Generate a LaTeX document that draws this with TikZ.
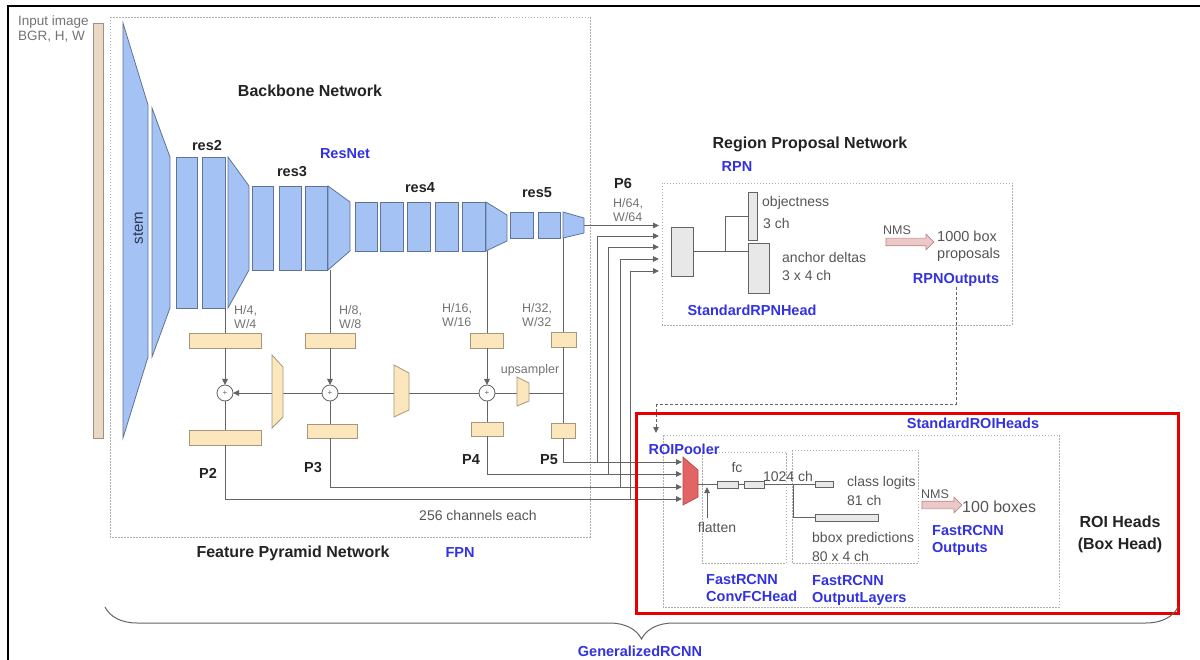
\documentclass[tikz,border=0pt]{standalone}
\usepackage{fontspec}
\setmainfont{Liberation Sans}
\usetikzlibrary{arrows.meta,shapes.arrows,decorations.pathreplacing,calc}
\definecolor{bbfill}{RGB}{164,194,244}
\definecolor{bbdraw}{RGB}{95,115,150}
\definecolor{tanfill}{RGB}{252,230,188}
\definecolor{tandraw}{RGB}{165,150,125}
\definecolor{barfill}{RGB}{232,216,196}
\definecolor{bardraw}{RGB}{160,145,130}
\definecolor{lgray}{RGB}{100,100,100}
\definecolor{txtgray}{RGB}{85,85,85}
\definecolor{ltxt}{RGB}{115,115,115}
\definecolor{ttl}{RGB}{35,35,35}
\definecolor{lblue}{RGB}{50,50,225}
\definecolor{boxgray}{RGB}{232,232,232}
\definecolor{pinkfill}{RGB}{236,200,200}
\definecolor{pinkdraw}{RGB}{185,135,135}
\definecolor{poolfill}{RGB}{226,100,100}
\definecolor{pooldraw}{RGB}{180,75,75}
\definecolor{redbox}{RGB}{232,0,0}
\definecolor{dotc}{RGB}{175,175,175}
\definecolor{stemc}{RGB}{45,55,80}
\begin{document}
\begin{tikzpicture}[x=1pt,y=-1pt,
  title/.style={font=\fontsize{16}{22}\selectfont\bfseries, text=ttl, inner sep=0, align=center},
  reslbl/.style={font=\fontsize{14.5}{17}\selectfont\bfseries, text=ttl, inner sep=0},
  blbl/.style={font=\fontsize{14.5}{17}\selectfont\bfseries, text=lblue, inner sep=0, align=left},
  txt/.style={font=\fontsize{14}{17}\selectfont, text=txtgray, inner sep=0, align=left},
  smalltxt/.style={font=\fontsize{12.5}{14.5}\selectfont, text=ltxt, inner sep=0, align=left},
  blk/.style={draw=bbdraw, fill=bbfill, line width=0.8pt},
  fpn/.style={draw=tandraw, fill=tanfill, line width=0.8pt, inner sep=0, outer sep=0, minimum height=15pt},
  gbox/.style={draw=lgray, fill=boxgray, line width=0.7pt, inner sep=0, outer sep=0},
  wire/.style={draw=lgray, line width=0.9pt},
  arr/.style={wire, -{Triangle[length=6pt,width=5.5pt]}},
  dotbox/.style={draw=dotc, line width=0.9pt, dash pattern=on 1.5pt off 1.5pt},
  sumnode/.style={circle, draw=lgray, line width=0.8pt, minimum size=16pt, inner sep=0, outer sep=0, fill=white, font=\fontsize{8}{8}\selectfont, text=lgray},
  nmsarrow/.style={single arrow, draw=pinkdraw, fill=pinkfill, line width=0.7pt, inner sep=3.5pt, single arrow head extend=4pt, minimum height=#1}
]
\useasboundingbox (0,0) rectangle (1200,660);
% frame
\draw[black, line width=1.5pt] (8,660) -- (8,6) -- (1200,6);

% dotted group boxes
\draw[dotbox] (110,17) rectangle (590,537);
\draw[dotbox] (662,183) rectangle (1012,325);
\draw[dotbox] (663,435) rectangle (1059,607);
\draw[dotbox] (702,452) rectangle (786,563);
\draw[dotbox] (792,450) rectangle (918,563);

% input image
\node[smalltxt, anchor=west, font=\fontsize{13.5}{15}\selectfont] (inimg) at (18,29) {Input image\\BGR, H, W};
\node[draw=bardraw, fill=barfill, line width=0.8pt, minimum width=10pt, minimum height=415pt, inner sep=0] (bar) at (98,230.5) {};

% backbone blocks
\draw[blk] (123,23) -- (148,105) -- (148,357) -- (123,438) -- cycle;
\draw[blk] (152,108) -- (170,157) -- (170,308) -- (152,357) -- cycle;
\draw[blk] (176,157) rectangle (197,308);
\draw[blk] (202,157) rectangle (225,308);
\draw[blk] (228,157) -- (249,186) -- (249,270) -- (228,308) -- cycle;
\foreach \a/\b in {252/273,279/301,305/327} \draw[blk] (\a,186) rectangle (\b,270);
\draw[blk] (328,186) -- (350,202) -- (350,251) -- (328,270) -- cycle;
\foreach \a/\b in {355/377,380/403,407/430,435/458,462/485} \draw[blk] (\a,202) rectangle (\b,251);
\draw[blk] (486,202) -- (507,215) -- (507,241) -- (486,251) -- cycle;
\foreach \a/\b in {510/533,538/560} \draw[blk] (\a,212) rectangle (\b,238);
\draw[blk] (563,212) -- (584,218) -- (584,233) -- (563,238) -- cycle;

\node[font=\fontsize{15}{17}\selectfont, text=stemc, rotate=90, inner sep=0] (stem) at (138,228) {stem};
\node[title] (bbt) at (310,91) {Backbone Network};
\node[blbl] (resnet) at (345,154) {ResNet};
\node[reslbl] (r2l) at (207,146) {res2};
\node[reslbl] (r3l) at (292,172) {res3};
\node[reslbl] (r4l) at (420,188) {res4};
\node[reslbl] (r5l) at (537,193) {res5};

% backbone outputs
\coordinate (c2) at (225,308);
\coordinate (c3) at (330,270);
\coordinate (c4) at (487,251);
\coordinate (c5) at (563.5,238);
\coordinate (c6) at (584,225.5);

% FPN nodes
\node[fpn, minimum width=72pt] (l2) at (225,340.5) {};
\node[fpn, minimum width=50pt] (l3) at (330,340.5) {};
\node[fpn, minimum width=33pt] (l4) at (487,340.5) {};
\node[fpn, minimum width=25pt] (l5) at (563.5,339.5) {};
\node[fpn, minimum width=72pt] (o2) at (225,437.5) {};
\node[fpn, minimum width=50pt, minimum height=14pt] (o3) at (332,431) {};
\node[fpn, minimum width=32pt, minimum height=14pt] (o4) at (487,429) {};
\node[fpn, minimum width=24pt] (o5) at (563.5,430.5) {};
\coordinate (j5) at (563.5,393);

% wires backbone -> lateral
\draw[wire] (c2) -- (l2.north);
\draw[wire] (c3) -- (l3.north);
\draw[wire] (c4) -- (l4.north);
\draw[wire] (c5) -- (l5.north);

% sums
\node[sumnode] (s2) at (225,393) {+};
\node[sumnode] (s3) at (330,393) {+};
\node[sumnode] (s4) at (487,393) {+};

\draw[arr] (l2) -- (s2);
\draw[arr] (l3) -- (s3);
\draw[arr] (l4) -- (s4);
\draw[wire] (l5) -- (o5);
\draw[wire] (s2) -- (o2);
\draw[wire] (s3) -- (o3.north -| s3);
\draw[wire] (s4) -- (o4);
% top-down path
\draw[wire] (j5) -- (s4);
\draw[wire] (s4) -- (s3);
\draw[arr] (s3) -- (s2);
% upsamplers
\draw[fpn] (272,355) -- (283,367) -- (283,417) -- (272,428) -- cycle;
\draw[fpn] (394,365) -- (409,373) -- (409,410) -- (394,417) -- cycle;
\draw[fpn] (517,377) -- (529,383) -- (529,401) -- (517,406) -- cycle;
\node[smalltxt] (ups) at (530,370) {upsampler};

% labels
\node[smalltxt, anchor=west] (h4) at (234,317) {H/4,\\W/4};
\node[smalltxt, anchor=west] (h8) at (339,317) {H/8,\\W/8};
\node[smalltxt, anchor=west] (h16) at (442,315) {H/16,\\W/16};
\node[smalltxt, anchor=west] (h32) at (522,315) {H/32,\\W/32};
\node[reslbl] (p2l) at (208,473) {P2};
\node[reslbl] (p3l) at (313,468) {P3};
\node[reslbl] (p4l) at (471,460) {P4};
\node[reslbl] (p5l) at (549,460) {P5};
\node[txt] (chan) at (478,515) {256 channels each};
\node[title] (fpnt) at (293,553) {Feature Pyramid Network};
\node[blbl] (fpnl) at (460,553) {FPN};

% ROI pooler
\draw[draw=pooldraw, fill=poolfill, line width=0.7pt] (683,457) -- (698,470) -- (698,497) -- (683,505) -- cycle;
\coordinate (pi5) at (682,462);
\coordinate (pi4) at (682,474);
\coordinate (pi3) at (682,487);
\coordinate (pi2) at (682,499);
\coordinate (poolout) at (698,484.5);

% P outputs to pooler
\draw[arr] (o5.south) |- (pi5);
\draw[arr] (o4.south) |- (pi4);
\draw[arr] (o3.south -| s3) |- (pi3);
\draw[arr] (o2.south) |- (pi2);

% branches to RPN
\coordinate (b5) at (597,462);
\coordinate (b4) at (608,474);
\coordinate (b3) at (620,487);
\coordinate (b2) at (630,499);
\coordinate (r6) at (659,225.5);
\coordinate (r5) at (659,236);
\coordinate (r4) at (659,247);
\coordinate (r3) at (659,259);
\coordinate (r2) at (659,271);
\draw[arr] (c6) -- (r6);
\draw[arr] (b5) |- (r5);
\draw[arr] (b4) |- (r4);
\draw[arr] (b3) |- (r3);
\draw[arr] (b2) |- (r2);
\node[reslbl] (p6l) at (623,184) {P6};
\node[smalltxt, anchor=west] (h64) at (613,210) {H/64,\\W/64};

% RPN
\node[title] (rpnt) at (810,144) {Region Proposal Network};
\node[blbl] (rpnl) at (737,167) {RPN};
\node[gbox, minimum width=22pt, minimum height=49pt] (rc) at (682,251.5) {};
\node[gbox, minimum width=9pt, minimum height=48pt] (ob) at (752.5,216) {};
\node[gbox, minimum width=21pt, minimum height=50pt] (ad) at (758.5,268) {};
\coordinate (rj) at (725,251.5);
\draw[wire] (rc.east) -- (rc.east -| ad.west);
\draw[wire] (rj) |- (ob.west);
\node[txt, anchor=west] (objl) at (762,203) {objectness};
\node[txt, anchor=west] (obch) at (763,223) {3 ch};
\node[txt, anchor=west] (adl) at (782,257) {anchor deltas};
\node[txt, anchor=west] (adch) at (782,275) {3 x 4 ch};
\node[nmsarrow=48pt] (nms1) at (908,242) {};
\node[smalltxt, text=txtgray] (nms1l) at (897,230) {NMS};
\node[txt, anchor=west, font=\fontsize{14.5}{17}\selectfont] (props) at (937,246) {1000 box\\proposals};
\node[blbl] (rpnout) at (956,280) {RPNOutputs};
\node[blbl] (rpnhead) at (752,310) {StandardRPNHead};

% dashed proposals link
\coordinate (dk2) at (656,404);
\coordinate (roitop) at (656,433);
\draw[draw=lgray, line width=0.9pt, dash pattern=on 3pt off 2pt] (rpnout.south) |- (dk2);
\draw[draw=lgray, line width=0.9pt, dash pattern=on 3pt off 2pt, -{Triangle[length=6pt,width=5.5pt]}] (dk2) -- (roitop);

% ROI heads
\draw[draw=redbox, line width=3pt] (636,413) rectangle (1178,613);
\node[blbl] (roil) at (973,423) {StandardROIHeads};
\node[blbl] (pooll) at (684,449) {ROIPooler};
\node[gbox, minimum width=21pt, minimum height=7pt] (fc1) at (727.5,484.5) {};
\node[gbox, minimum width=20pt, minimum height=7pt] (fc2) at (754,484.5) {};
\node[gbox, minimum width=18pt, minimum height=6pt] (cl) at (824,484.5) {};
\node[gbox, minimum width=63pt, minimum height=7pt] (bb) at (846.5,517.5) {};
\coordinate (bj) at (793,484.5);
\draw[wire] (poolout) -- (fc1);
\draw[wire] (fc1) -- (fc2);
\draw[wire] (fc2) -- (cl);
\draw[wire] (bj) |- (bb.west);
\node[txt] (fcl) at (737,468) {fc};
\node[txt] (c1024) at (788,476) {1024 ch};
\node[txt] (flat) at (717,527) {flatten};
\coordinate (fl1) at (707,518);
\coordinate (fl2) at (707,487);
\draw[arr] (fl1) -- (fl2);
\node[txt, anchor=west] (cll) at (847,483) {class logits};
\node[txt, anchor=west] (clch) at (847,500) {81 ch};
\node[txt, anchor=west] (bbl) at (812,539) {bbox predictions};
\node[txt, anchor=west] (bbch) at (812,556) {80 x 4 ch};
\node[blbl, anchor=west] (convfc) at (706,588) {FastRCNN\\ConvFCHead};
\node[blbl, anchor=west] (outlay) at (812,590) {FastRCNN\\OutputLayers};
\node[nmsarrow=40pt] (nms2) at (940,505) {};
\node[smalltxt, text=txtgray] (nms2l) at (935,494) {NMS};
\node[txt, anchor=west, font=\fontsize{16}{19}\selectfont] (boxes) at (962,507) {100 boxes};
\node[blbl, anchor=west] (frout) at (932,540) {FastRCNN\\Outputs};
\node[title] (roiht) at (1120,534) {ROI Heads\\(Box Head)};

% brace
\draw[draw=lgray, line width=1pt, decorate, decoration={brace, mirror, amplitude=32pt}] (105,607) -- (1178,607);
\node[blbl] (grcnn) at (640,651) {GeneralizedRCNN};
\end{tikzpicture}
\end{document}
